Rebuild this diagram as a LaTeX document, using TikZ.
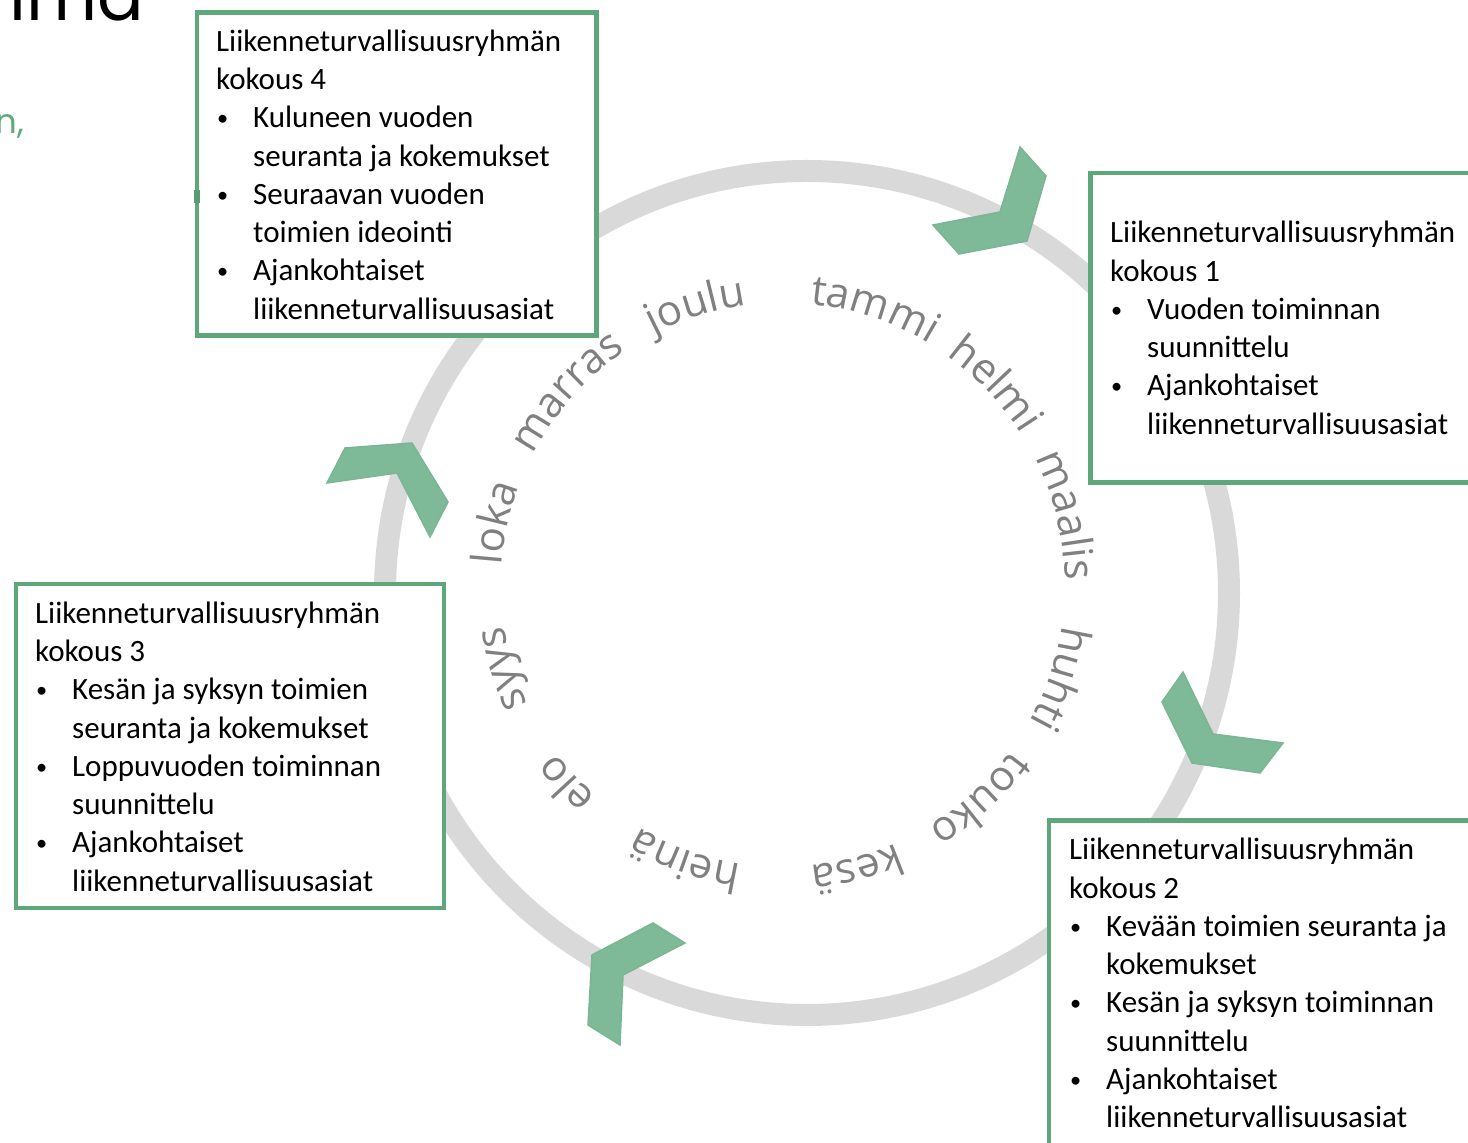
\documentclass[tikz,border=0pt]{standalone}
\usepackage{fontspec}
\usepackage{graphicx}
\setmainfont{Carlito}
\newfontfamily\monthfamily{Open Sans}
\newfontfamily\titlefamily{Poppins}
\usetikzlibrary{decorations.text}
\definecolor{boxgreen}{RGB}{94,167,122}
\definecolor{markgreen}{RGB}{86,158,113}
\definecolor{chevgreen}{RGB}{127,186,152}
\definecolor{chevedge}{RGB}{122,182,147}
\definecolor{ringgray}{RGB}{217,217,217}
\definecolor{monthgray}{RGB}{128,128,128}
\definecolor{accentgreen}{RGB}{95,170,125}
\newcommand\bul{\makebox[37pt][l]{\hspace{1pt}\raisebox{2pt}{\scalebox{0.72}{\textbullet}}}}
\newcommand\ind{\hspace*{37pt}}
\newcommand\monthfont{\monthfamily\fontsize{42}{42}\selectfont}
\begin{document}
\begin{tikzpicture}[x=1pt,y=1pt,
  meetbox/.style={draw=boxgreen, line width=4.5pt, fill=white, outer sep=0pt, inner sep=0pt, anchor=north west},
  boxtext/.style={inner sep=0pt, anchor=base west, font=\fontsize{31}{38.25}\selectfont},
  chevron/.style={fill=chevgreen, draw=chevedge, line width=1.5pt, line join=miter},
  month/.style={decorate, decoration={text along path, text align=center, text color=monthgray}}]
\useasboundingbox (0,0) rectangle (1468,1143);

% cut-off title and subtitle
\node[anchor=base west, inner sep=0pt, font=\titlefamily\fontsize{69}{69}\selectfont] (title) at (9,1122) {lma};
\node[anchor=base east, inner sep=0pt, text=accentgreen, font=\titlefamily\fontsize{34}{34}\selectfont] (sub) at (24,1009) {n,};

% ring
\draw[ringgray, line width=22pt] (807,550) circle[radius=422pt];

% chevrons
\draw[chevron] (1020,996) -- (1046,967) -- (1027,902) -- (959,889) -- (933,918) -- (1000,931) -- cycle;
\draw[chevron] (345,695) -- (412,700) -- (448,641) -- (430,606) -- (397,670) -- (327,660) -- cycle;
\draw[chevron] (1183,471) -- (1162,441) -- (1192,380) -- (1260,370) -- (1283,400) -- (1213,409) -- cycle;
\draw[chevron] (653,220) -- (685,200) -- (623,168) -- (620,98) -- (588,118) -- (592,188) -- cycle;

% boxes
\node[meetbox, minimum width=399.5pt, minimum height=323pt] (box4) at (197,1130.5) {};
\node[meetbox, minimum width=400pt, minimum height=309.5pt] (box1) at (1090.5,970) {};
\node[meetbox, minimum width=440pt, minimum height=340pt] (box2) at (1049,322.5) {};
\node[meetbox, minimum width=428pt, minimum height=324pt] (box3) at (16,559) {};
\fill[markgreen] (194,940) rectangle (200,953);

% box texts
\node[boxtext] (t4) at (216,1091.5) {\parbox[t]{400pt}{\raggedright
Liikenneturvallisuusryhmän\\
kokous 4\\
\bul Kuluneen vuoden\\
\ind seuranta ja kokemukset\\
\bul Seuraavan vuoden\\
\ind toimien ideointi\\
\bul Ajankohtaiset\\
\ind liikenneturvallisuusasiat}};

\node[boxtext] (t1) at (1110,900) {\parbox[t]{400pt}{\raggedright
Liikenneturvallisuusryhmän\\
kokous 1\\
\bul Vuoden toiminnan\\
\ind suunnittelu\\
\bul Ajankohtaiset\\
\ind liikenneturvallisuusasiat}};

\node[boxtext] (t2) at (1069,283) {\parbox[t]{420pt}{\raggedright
Liikenneturvallisuusryhmän\\
kokous 2\\
\bul Kevään toimien seuranta ja\\
\ind kokemukset\\
\bul Kesän ja syksyn toiminnan\\
\ind suunnittelu\\
\bul Ajankohtaiset\\
\ind liikenneturvallisuusasiat}};

\node[boxtext] (t3) at (35,519.5) {\parbox[t]{420pt}{\raggedright
Liikenneturvallisuusryhmän\\
kokous 3\\
\bul Kesän ja syksyn toimien\\
\ind seuranta ja kokemukset\\
\bul Loppuvuoden toiminnan\\
\ind suunnittelu\\
\bul Ajankohtaiset\\
\ind liikenneturvallisuusasiat}};

% months along the circle
\path[shift={(783,558)}, month, decoration={text={|\monthfont|tammi}}] (93.6:282pt) arc[start angle=93.6, end angle=49.6, radius=282pt];
\path[shift={(783,558)}, month, decoration={text={|\monthfont|helmi}}] (65.4:282pt) arc[start angle=65.4, end angle=21.4, radius=282pt];
\path[shift={(783,558)}, month, decoration={text={|\monthfont|maalis}}] (35.9:282pt) arc[start angle=35.9, end angle=-8.1, radius=282pt];
\path[shift={(783,558)}, month, decoration={text={|\monthfont|huhti}}] (3.4:282pt) arc[start angle=3.4, end angle=-40.6, radius=282pt];
\path[shift={(783,558)}, month, decoration={text={|\monthfont|touko}}] (-25.5:282pt) arc[start angle=-25.5, end angle=-69.5, radius=282pt];
\path[shift={(783,558)}, month, decoration={text={|\monthfont|kesä}}] (-53.3:282pt) arc[start angle=-53.3, end angle=-97.3, radius=282pt];
\path[shift={(783,558)}, month, decoration={text={|\monthfont|heinä}}] (-87.6:282pt) arc[start angle=-87.6, end angle=-131.6, radius=282pt];
\path[shift={(783,558)}, month, decoration={text={|\monthfont|elo}}] (-115.5:282pt) arc[start angle=-115.5, end angle=-159.5, radius=282pt];
\path[shift={(783,558)}, month, decoration={text={|\monthfont|syys}}] (-141.4:282pt) arc[start angle=-141.4, end angle=-185.4, radius=282pt];
\path[shift={(783,558)}, month, decoration={text={|\monthfont|loka}}] (189.7:282pt) arc[start angle=189.7, end angle=145.7, radius=282pt];
\path[shift={(783,558)}, month, decoration={text={|\monthfont|marras}}] (160.2:282pt) arc[start angle=160.2, end angle=116.2, radius=282pt];
\path[shift={(783,558)}, month, decoration={text={|\monthfont|joulu}}] (129.4:282pt) arc[start angle=129.4, end angle=85.4, radius=282pt];
\end{tikzpicture}
\end{document}
